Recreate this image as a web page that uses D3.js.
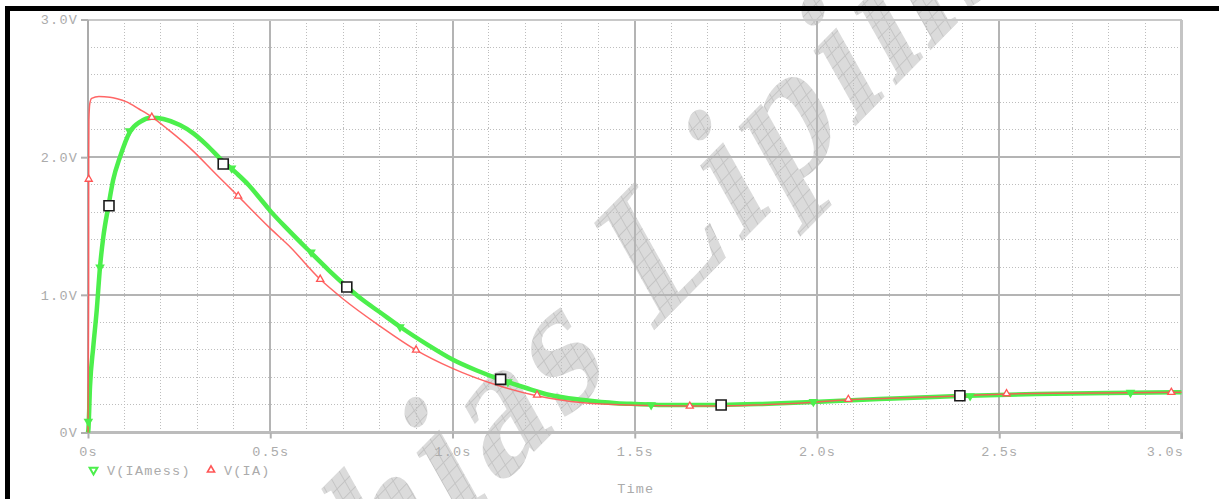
<!DOCTYPE html>
<html>
<head>
<meta charset="utf-8">
<script src="https://cdn.jsdelivr.net/npm/d3@7"></script>
<style>
  html, body { margin: 0; padding: 0; background: #fff; overflow: hidden; }
  svg { display: block; }
  .lbl { font-family: "Liberation Mono", "DejaVu Sans Mono", monospace; font-size: 13.5px; letter-spacing: 1.2px; fill: #ababab; }
</style>
</head>
<body>
<svg id="chart" width="1219" height="499"></svg>
<script>
// ---- axis ticks ----
const timeTicks = [0, 0.5, 1.0, 1.5, 2.0, 2.5, 3.0];
const timeTickLabels = ["0s", "0.5s", "1.0s", "1.5s", "2.0s", "2.5s", "3.0s"];
const voltTicks = [0, 1, 2, 3];
const voltTickLabels = ["0V", "1.0V", "2.0V", "3.0V"];
const xTitle = "Time";
const seriesNames = ["V(IAmess)", "V(IA)"];

// ---- V(IAmess) trace (s, V) ----
const iamessT = [0, 0.001, 0.0055, 0.0145, 0.024, 0.033, 0.042, 0.0557, 0.069, 0.088, 0.115, 0.143, 0.175, 0.207, 0.252, 0.289, 0.326, 0.371, 0.408, 0.44, 0.472, 0.5, 0.55, 0.609, 0.66, 0.71, 0.755, 0.80, 0.856, 0.93, 1.0, 1.065, 1.13, 1.2, 1.267, 1.359, 1.45, 1.5, 1.6, 1.737, 1.85, 1.99, 2.17, 2.39, 2.6, 2.8, 3.0];
const iamessV = [0, 0.02, 0.333, 0.623, 0.89, 1.204, 1.42, 1.64, 1.834, 2.003, 2.184, 2.257, 2.286, 2.277, 2.233, 2.173, 2.088, 1.967, 1.882, 1.80, 1.70, 1.61, 1.47, 1.313, 1.18, 1.059, 0.96, 0.875, 0.768, 0.64, 0.53, 0.452, 0.386, 0.325, 0.272, 0.236, 0.213, 0.207, 0.199, 0.2, 0.207, 0.222, 0.243, 0.266, 0.279, 0.287, 0.292];

// ---- V(IA) trace (s, V) ----
const iaT = [0, 0.0018, 0.002, 0.0025, 0.005, 0.01, 0.03, 0.06, 0.08, 0.106, 0.14, 0.175, 0.22, 0.28, 0.35, 0.412, 0.45, 0.5, 0.55, 0.637, 0.70, 0.80, 0.90, 1.0, 1.121, 1.231, 1.359, 1.5, 1.65, 1.8, 2.0, 2.086, 2.2, 2.39, 2.52, 2.7, 3.0];
const iaV = [0, 1.0, 2.0, 2.27, 2.39, 2.427, 2.44, 2.436, 2.425, 2.402, 2.35, 2.293, 2.20, 2.066, 1.88, 1.717, 1.615, 1.483, 1.36, 1.113, 0.97, 0.775, 0.599, 0.466, 0.345, 0.267, 0.216, 0.198, 0.192, 0.197, 0.222, 0.238, 0.248, 0.266, 0.28, 0.286, 0.292];

// ---- symbol positions on each trace ----
const iamessMarkT = [0.001, 0.033, 0.114, 0.394, 0.612, 0.856, 1.152, 1.545, 1.99, 2.42, 2.86];
const iamessMarkV = [0.08, 1.20, 2.19, 1.92, 1.31, 0.766, 0.367, 0.20, 0.223, 0.265, 0.29];
const iaMarkT = [0.002, 0.175, 0.412, 0.637, 0.90, 1.232, 1.651, 2.086, 2.52, 2.972];
const iaMarkV = [1.84, 2.29, 1.717, 1.113, 0.599, 0.272, 0.192, 0.241, 0.282, 0.292];

// ---- square data-point marks ----
const pointT = [0.0576, 0.371, 0.710, 1.132, 1.737, 2.392];
const pointV = [1.647, 1.95, 1.057, 0.386, 0.2, 0.267];

const watermarkText = "Matthias Lipinski";

const svg = d3.select("#chart");
const x = d3.scaleLinear().domain([0, 3]).range([88, 1181.5]);
const y = d3.scaleLinear().domain([0, 3]).range([432.5, 19.5]);

// ---- watermark (rotated, horizontally compressed) ----
const defs = svg.append("defs");
const pat = defs.append("pattern").attr("id", "hatch")
  .attr("width", 13).attr("height", 13)
  .attr("patternUnits", "userSpaceOnUse");
pat.append("rect").attr("width", 13).attr("height", 13).attr("fill", "#dbdbdb");
pat.append("path").attr("d", "M0 0.5H13M0.5 0V13").attr("stroke", "#c4c4c4").attr("stroke-width", 1.2);

svg.append("text")
  .attr("transform", "scale(0.744,1) translate(136,890) rotate(-37)")
  .attr("font-family", "'Liberation Serif', 'DejaVu Serif', serif")
  .attr("font-weight", "bold")
  .attr("font-size", 205)
  .attr("letter-spacing", 10)
  .attr("fill", "url(#hatch)")
  .text(watermarkText);

// ---- grid ----
const grid = svg.append("g").attr("shape-rendering", "crispEdges");
const minorT = d3.range(1, 30).filter(i => i % 5 !== 0).map(i => i / 10);
const minorV = d3.range(1, 15).filter(i => i % 5 !== 0).map(i => i / 5);
grid.selectAll(".mv").data(minorT).join("line")
  .attr("x1", d => x(d)).attr("x2", d => x(d))
  .attr("y1", y(3)).attr("y2", y(0))
  .attr("stroke", "#bdbdbd").attr("stroke-width", 1).attr("stroke-dasharray", "1,2");
grid.selectAll(".mh").data(minorV).join("line")
  .attr("x1", x(0)).attr("x2", x(3))
  .attr("y1", d => y(d)).attr("y2", d => y(d))
  .attr("stroke", "#bdbdbd").attr("stroke-width", 1).attr("stroke-dasharray", "1,2");
grid.selectAll(".Mv").data(timeTicks.slice(1, -1)).join("line")
  .attr("x1", d => x(d)).attr("x2", d => x(d))
  .attr("y1", y(3)).attr("y2", y(0))
  .attr("stroke", "#b4b4b4").attr("stroke-width", 2);
grid.selectAll(".Mh").data(voltTicks.slice(1, -1)).join("line")
  .attr("x1", x(0)).attr("x2", x(3))
  .attr("y1", d => y(d)).attr("y2", d => y(d))
  .attr("stroke", "#b4b4b4").attr("stroke-width", 2);

// plot frame
grid.append("line").attr("x1", x(0)).attr("x2", x(3)).attr("y1", y(3)).attr("y2", y(3))
  .attr("stroke", "#c8c8c8").attr("stroke-width", 2);
grid.append("line").attr("x1", x(3)).attr("x2", x(3)).attr("y1", y(3)).attr("y2", y(0) + 6)
  .attr("stroke", "#c4c4c4").attr("stroke-width", 3);
grid.append("line").attr("x1", x(0)).attr("x2", x(3)).attr("y1", y(0)).attr("y2", y(0))
  .attr("stroke", "#bcbcbc").attr("stroke-width", 2.5);
grid.append("line").attr("x1", x(0)).attr("x2", x(0)).attr("y1", y(3)).attr("y2", y(0))
  .attr("stroke", "#ababab").attr("stroke-width", 2);

// ---- axes ----
const xAxis = d3.axisBottom(x).tickValues(timeTicks)
  .tickFormat((d, i) => timeTickLabels[i]).tickSize(6).tickPadding(8);
const gx = svg.append("g").attr("transform", `translate(0,${y(0)})`).call(xAxis);
const yAxis = d3.axisLeft(y).tickValues(voltTicks)
  .tickFormat((d, i) => voltTickLabels[i]).tickSize(7).tickPadding(3);
const gy = svg.append("g").attr("transform", `translate(${x(0)},0)`).call(yAxis);
[gx, gy].forEach(g => {
  g.select(".domain").remove();
  g.selectAll(".tick line").attr("stroke", "#b0b0b0").attr("stroke-width", 2);
  g.selectAll(".tick text").attr("class", "lbl").attr("font-family", null).attr("font-size", null).attr("fill", null);
});
gx.selectAll(".tick text").filter((d, i) => i === timeTicks.length - 1)
  .attr("text-anchor", "end").attr("dx", 2);

// ---- traces ----
const line = d3.line().x(d => x(d[0])).y(d => y(d[1])).curve(d3.curveMonotoneX);
const iamess = iamessT.map((t, i) => [t, iamessV[i]]);
const ia = iaT.map((t, i) => [t, iaV[i]]);
const GREEN = "#4cef4c", RED = "#ff5555";

svg.append("path").datum(iamess).attr("d", line)
  .attr("fill", "none").attr("stroke", GREEN).attr("stroke-width", 4.5).attr("stroke-linejoin", "round");
svg.append("path").datum(ia).attr("d", line)
  .attr("fill", "none").attr("stroke", RED).attr("stroke-width", 1.5).attr("stroke-opacity", 0.9);

const tri = d3.symbol().type(d3.symbolTriangle);
svg.append("g").selectAll("path").data(iamessMarkT.map((t, i) => [t, iamessMarkV[i]])).join("path")
  .attr("d", tri.size(40)())
  .attr("transform", d => `translate(${x(d[0])},${y(d[1])}) rotate(180)`)
  .attr("fill", GREEN);
svg.append("g").selectAll("path").data(iaMarkT.map((t, i) => [t, iaMarkV[i]])).join("path")
  .attr("d", tri.size(22)())
  .attr("transform", d => `translate(${x(d[0])},${y(d[1])})`)
  .attr("fill", "#fff").attr("stroke", RED).attr("stroke-width", 1.3);

svg.append("g").selectAll("path").data(pointT.map((t, i) => [t, pointV[i]])).join("path")
  .attr("d", d3.symbol().type(d3.symbolSquare).size(100)())
  .attr("transform", d => `translate(${x(d[0])},${y(d[1])})`)
  .attr("fill", "#fff").attr("stroke", "#1a1a1a").attr("stroke-width", 1.6);

// ---- legend ----
const lg = svg.append("g");
lg.append("path").attr("d", tri.size(26)())
  .attr("transform", "translate(93.5,470) rotate(180)")
  .attr("fill", "#fff").attr("stroke", GREEN).attr("stroke-width", 2);
lg.append("text").attr("class", "lbl").attr("x", 107).attr("y", 474.5).text(seriesNames[0]);
lg.append("path").attr("d", tri.size(22)())
  .attr("transform", "translate(211,470)")
  .attr("fill", "#fff").attr("stroke", RED).attr("stroke-width", 1.6);
lg.append("text").attr("class", "lbl").attr("x", 224).attr("y", 474.5).text(seriesNames[1]);

// axis title
svg.append("text").attr("class", "lbl").attr("x", (x(0) + x(3)) / 2 + 1).attr("y", 493)
  .attr("text-anchor", "middle").text(xTitle);

// ---- outer black frame ----
svg.append("rect").attr("x", 5).attr("y", 6).attr("width", 1214).attr("height", 5).attr("fill", "#000");
svg.append("rect").attr("x", 5).attr("y", 6).attr("width", 5).attr("height", 493).attr("fill", "#000");
</script>
</body>
</html>
